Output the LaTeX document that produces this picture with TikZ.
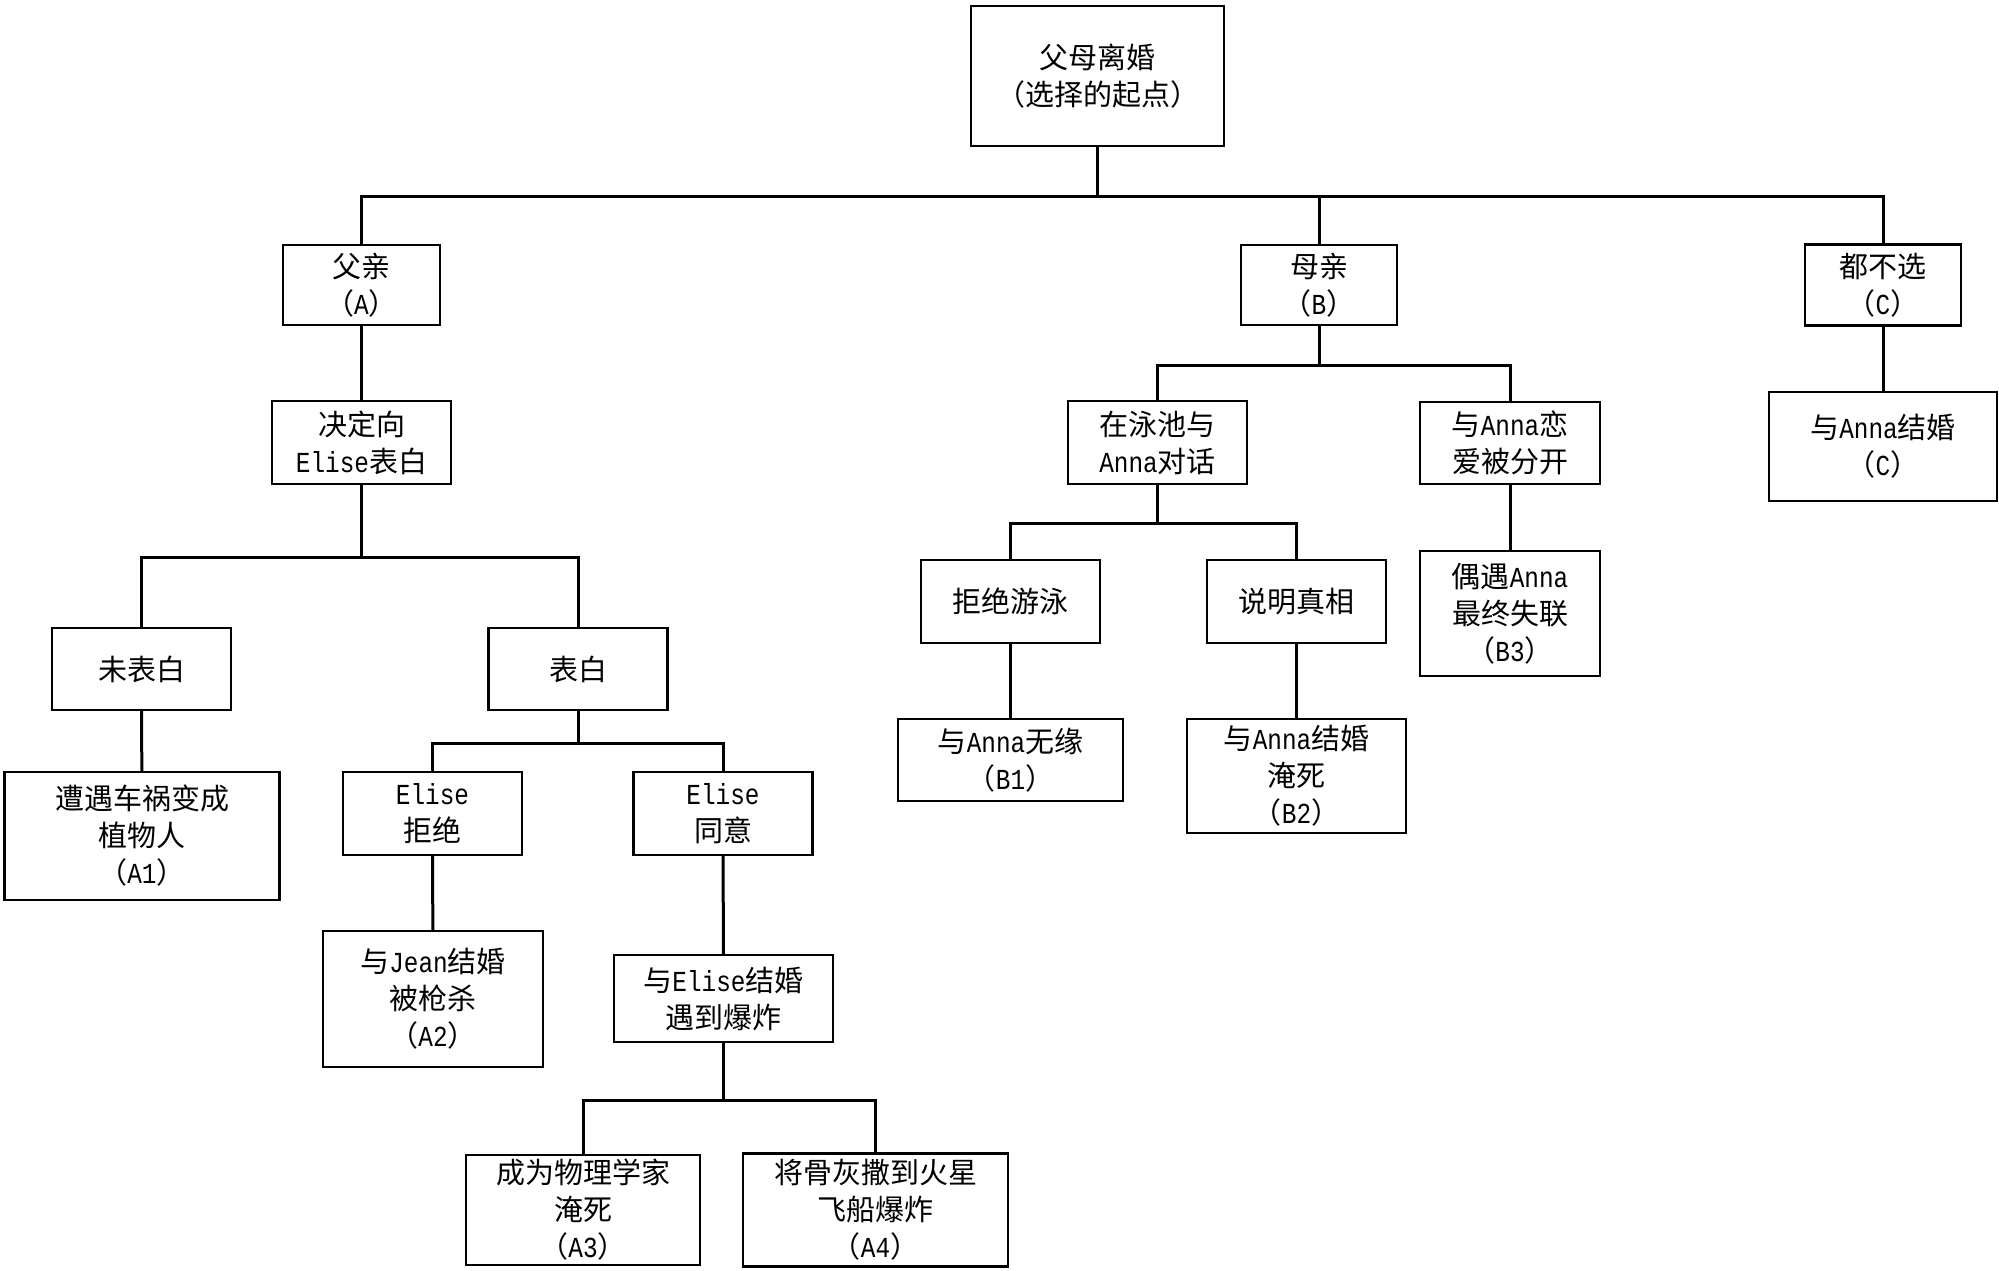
\documentclass[tikz,border=0pt]{standalone}
\usepackage{fontspec}
\setmainfont{Noto Sans CJK SC}
\newfontfamily\latfont{Liberation Mono}[FakeStretch=0.84]
\newcommand\la[1]{{\latfont #1}}
\tikzset{
  tbox/.style={draw, line width=2.4pt, rectangle, inner sep=0pt, align=center,
    font=\fontsize{29}{37}\selectfont},
  link/.style={line width=3pt, line join=miter}
}
\begin{document}
\begin{tikzpicture}[x=1pt,y=-1pt]
\useasboundingbox (0,0) rectangle (1999,1271);
% nodes
\node[tbox, minimum width=253pt, minimum height=140pt] (root) at (1097.5,76) {父母离婚\\（选择的起点）};
\node[tbox, minimum width=157pt, minimum height=80pt] (A) at (361.5,285) {父亲\\（\la{A}）};
\node[tbox, minimum width=156pt, minimum height=80pt] (B) at (1319,285) {母亲\\（\la{B}）};
\node[tbox, minimum width=156pt, minimum height=81pt] (C) at (1883,285) {都不选\\（\la{C}）};
\node[tbox, minimum width=228pt, minimum height=109pt] (C1) at (1883,446.5) {与\la{Anna}结婚\\（\la{C}）};
% A branch
\node[tbox, minimum width=179pt, minimum height=83pt] (D) at (361.5,442.5) {决定向\\\la{Elise}表白};
\node[tbox, minimum width=179pt, minimum height=82pt] (N) at (141.5,669) {未表白};
\node[tbox, minimum width=179pt, minimum height=82pt] (Y) at (578,669) {表白};
\node[tbox, minimum width=275pt, minimum height=128pt] (A1) at (142,836) {遭遇车祸变成\\植物人\\（\la{A1}）};
\node[tbox, minimum width=179pt, minimum height=83pt] (ER) at (432.5,813.5) {\la{Elise}\\拒绝};
\node[tbox, minimum width=179pt, minimum height=83pt] (EA) at (723,813.5) {\la{Elise}\\同意};
\node[tbox, minimum width=220pt, minimum height=136pt] (A2) at (433,999) {与\la{Jean}结婚\\被枪杀\\（\la{A2}）};
\node[tbox, minimum width=219pt, minimum height=87pt] (EM) at (723.5,998.5) {与\la{Elise}结婚\\遇到爆炸};
\node[tbox, minimum width=234pt, minimum height=110pt] (A3) at (583,1210) {成为物理学家\\淹死\\（\la{A3}）};
\node[tbox, minimum width=265pt, minimum height=113pt] (A4) at (875.5,1210) {将骨灰撒到火星\\飞船爆炸\\（\la{A4}）};
% B branch
\node[tbox, minimum width=179pt, minimum height=83pt] (P) at (1157.5,442.5) {在泳池与\\\la{Anna}对话};
\node[tbox, minimum width=180pt, minimum height=82pt] (L) at (1510,443) {与\la{Anna}恋\\爱被分开};
\node[tbox, minimum width=180pt, minimum height=125pt] (B3) at (1510,613.5) {偶遇\la{Anna}\\最终失联\\（\la{B3}）};
\node[tbox, minimum width=179pt, minimum height=83pt] (RS) at (1010.5,601.5) {拒绝游泳};
\node[tbox, minimum width=179pt, minimum height=83pt] (TT) at (1296.5,601.5) {说明真相};
\node[tbox, minimum width=225pt, minimum height=82pt] (B1) at (1010.5,760) {与\la{Anna}无缘\\（\la{B1}）};
\node[tbox, minimum width=219pt, minimum height=114pt] (B2) at (1296.5,776) {与\la{Anna}结婚\\淹死\\（\la{B2}）};
% connectors
\foreach \c in {A,B,C} \draw[link] (root.south) -- ++(0,49) -| (\c.north);
\draw[link] (A) -- (D);
\draw[link] (C) -- (C1);
\foreach \c in {N,Y} \draw[link] (D.south) -- ++(0,72) -| (\c.north);
\draw[link] (N) -- (A1);
\foreach \c in {ER,EA} \draw[link] (Y.south) -- ++(0,32) -| (\c.north);
\draw[link] (ER) -- (A2);
\draw[link] (EA) -- (EM);
\foreach \c in {A3,A4} \draw[link] (EM.south) -- ++(0,57) -| (\c.north);
\foreach \c in {P,L} \draw[link] (B.south) -- ++(0,39) -| (\c.north);
\foreach \c in {RS,TT} \draw[link] (P.south) -- ++(0,38) -| (\c.north);
\draw[link] (RS) -- (B1);
\draw[link] (TT) -- (B2);
\draw[link] (L) -- (B3);
\end{tikzpicture}
\end{document}
